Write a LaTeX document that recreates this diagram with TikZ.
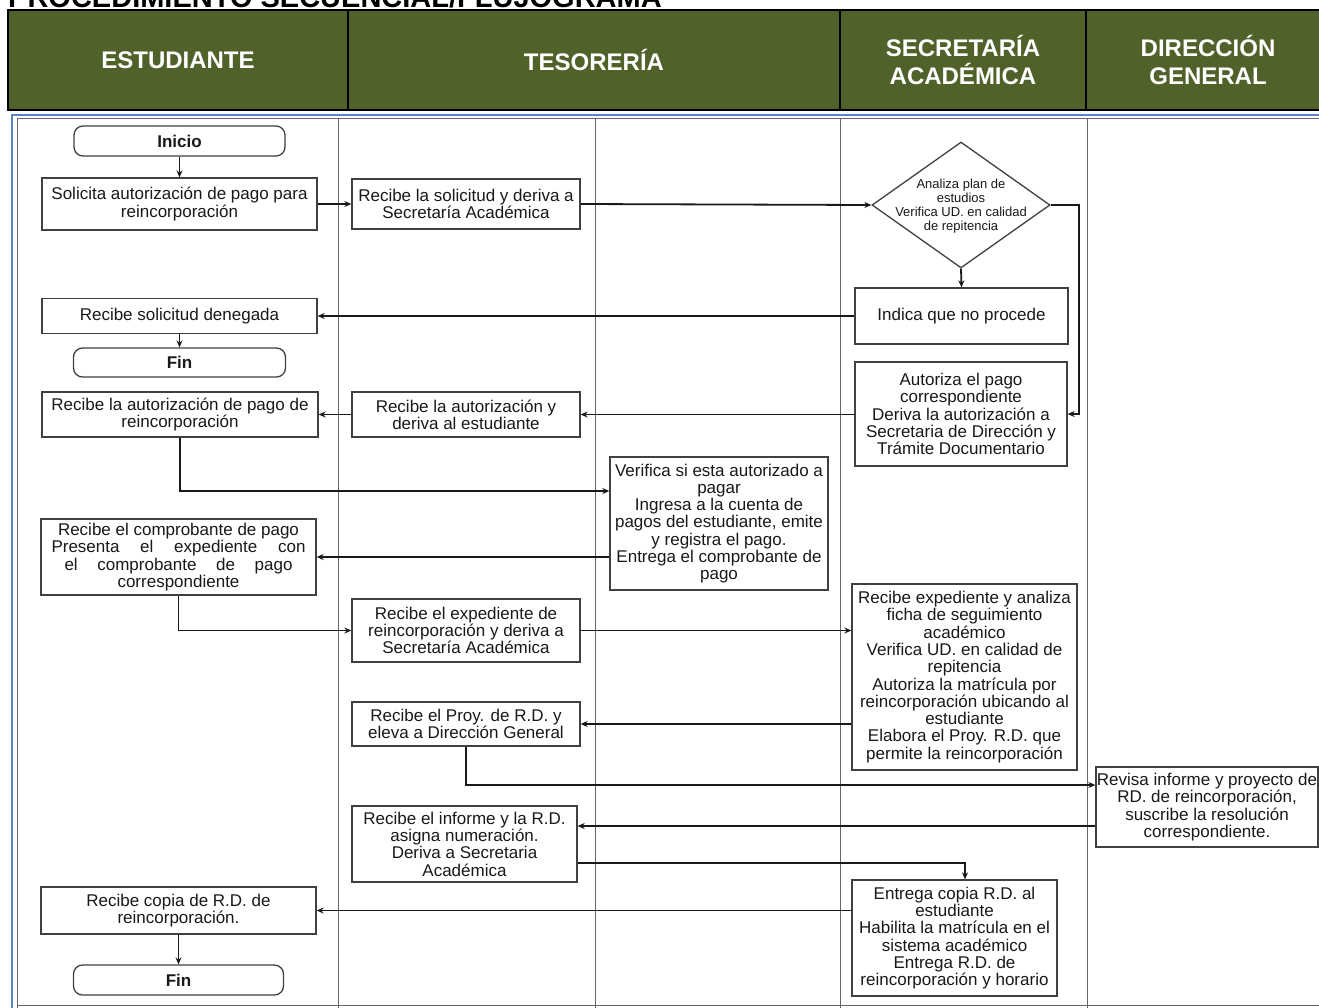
\documentclass[tikz,border=0pt]{standalone}
\usepackage{fontspec}
\setmainfont{Liberation Sans}
\usetikzlibrary{arrows.meta,shapes.geometric,calc}
\definecolor{hdr}{RGB}{80,97,42}
\definecolor{frameblue}{RGB}{91,135,201}
\begin{document}
\begin{tikzpicture}[x=1pt,y=-1pt,
  box/.style={draw=black!75, line width=1.3pt, fill=white, inner sep=0pt, align=center,
    font=\fontsize{17}{17.3}\selectfont, text=black!90},
  term/.style={box, rounded corners=9pt, font=\bfseries\fontsize{17}{17.3}\selectfont},
  arr/.style={line width=1.8pt, draw=black!90, -{Stealth[length=7pt,width=6pt]}},
  lane/.style={draw=black!60, line width=1pt},
  hd/.style={text=white, font=\bfseries\fontsize{24}{28}\selectfont, align=center}]
\useasboundingbox (0,0) rectangle (1319,1007);

% title (cut off at top, as in the reference)
\node[anchor=base west, inner sep=0pt, font=\bfseries\fontsize{29}{32}\selectfont] (title) at (8,7) {PROCEDIMIENTO SECUENCIAL/FLUJOGRAMA};

% header
\fill[hdr] (8,10) rectangle (1325,110);
\draw[line width=2.5pt] (1325,10) -- (8,10) -- (8,110) -- (1325,110);
\draw[line width=1.8pt] (348,10)--(348,110) (840,10)--(840,110) (1086,10)--(1086,110);
\node[hd] (hE) at (178,60) {ESTUDIANTE};
\node[hd] (hT) at (594,60) {TESORERÍA};
\node[hd] (hS) at (963,60) {SECRETARÍA\\ACADÉMICA};
\node[hd] (hD) at (1208,60) {DIRECCIÓN\\GENERAL};

% lanes
\draw[frameblue, line width=1.5pt] (12,1010) -- (12,115) -- (1325,115);
\draw[lane] (17,1010) -- (17,118) -- (1325,118);
\draw[lane] (338,118) -- (338,1010) (595,118) -- (595,1010) (840,118) -- (840,1010) (1087,118) -- (1087,1010);
\draw[lane] (17,1005) -- (1325,1005);

% nodes
\node[term, minimum width=211pt, minimum height=30pt] (inicio) at (179.5,141) {Inicio};
\node[box, minimum width=275pt, minimum height=52pt] (sol) at (179.5,204) {Solicita autorización de pago para\\reincorporación};
\node[box, minimum width=228pt, minimum height=50pt] (rsol) at (466,204) {Recibe la solicitud y deriva a\\Secretaría Académica};
\node[draw=black!75, line width=1.3pt, fill=white, shape=diamond, inner sep=0pt, minimum width=178pt, minimum height=126pt] (dia) at (961,205) {};
\node[align=center, inner sep=0pt, text=black!90, font=\fontsize{13}{14}\selectfont] (diatext) at (961,206) {Analiza plan de\\estudios\\Verifica UD. en calidad\\de repitencia};
\node[box, minimum width=213pt, minimum height=56pt] (indica) at (961.5,316) {Indica que no procede};
\node[box, minimum width=275pt, minimum height=35pt] (den) at (179.5,316) {Recibe solicitud denegada};
\node[term, minimum width=212pt, minimum height=29pt] (fin1) at (179.5,362.5) {Fin};
\node[box, minimum width=276pt, minimum height=45pt] (rautE) at (180,414.5) {Recibe la autorización de pago de\\reincorporación};
\node[box, minimum width=228pt, minimum height=45pt] (rautT) at (466,414.5) {Recibe la autorización y\\deriva al estudiante};
\node[box, minimum width=212pt, minimum height=104pt] (aut) at (961,414) {Autoriza el pago\\correspondiente\\Deriva la autorización a\\Secretaria de Dirección y\\Trámite Documentario};
\node[box, minimum width=218pt, minimum height=133pt] (ver) at (719,523.5) {Verifica si esta autorizado a\\pagar\\Ingresa a la cuenta de\\pagos del estudiante, emite\\y registra el pago.\\Entrega el comprobante de\\pago};
\node[box, minimum width=275pt, minimum height=76pt] (comp) at (178.5,557) {Recibe el comprobante de pago\\\makebox[254pt][s]{Presenta el expediente con}\\\makebox[228pt][s]{el comprobante de pago}\\correspondiente};
\node[box, minimum width=228pt, minimum height=63pt] (rexp) at (466,630.5) {Recibe el expediente de\\reincorporación y deriva a\\Secretaría Académica};
\node[box, minimum width=225pt, minimum height=186pt] (anal) at (964.5,677) {Recibe expediente y analiza\\ficha de seguimiento\\académico\\Verifica UD. en calidad de\\repitencia\\Autoriza la matrícula por\\reincorporación ubicando al\\estudiante\\Elabora el Proy. R.D. que\\permite la reincorporación};
\node[box, minimum width=228pt, minimum height=44pt] (proy) at (466,724) {Recibe el Proy. de R.D. y\\eleva a Dirección General};
\node[box, minimum width=222pt, minimum height=80pt] (rev) at (1207,807) {Revisa informe y proyecto de\\RD. de reincorporación,\\suscribe la resolución\\correspondiente.};
\node[box, minimum width=225pt, minimum height=76pt] (rinf) at (464.5,844) {Recibe el informe y la R.D.\\asigna numeración.\\Deriva a Secretaria\\Académica};
\node[box, minimum width=205pt, minimum height=116pt] (ent) at (954.5,938) {Entrega copia R.D. al\\estudiante\\Habilita la matrícula en el\\sistema académico\\Entrega R.D. de\\reincorporación y horario};
\node[box, minimum width=275pt, minimum height=47pt] (rcop) at (178.5,910.5) {Recibe copia de R.D. de\\reincorporación.};
\node[term, minimum width=210pt, minimum height=30pt] (fin2) at (178.5,980) {Fin};

% connectors
\draw[arr] (inicio.south) -- (inicio.south |- sol.north);
\draw[arr] (sol.east) -- (rsol.west);
\draw[arr] (rsol.east) -- (dia.west);
\draw[arr] (dia.south) -- (indica.north);
\draw[arr] (dia.east) -- ++(28,0) |- (aut.east);
\draw[arr] (indica.west) -- (den.east);
\draw[arr] (den.south) -- (fin1.north);
\draw[arr] (aut.west |- rautT.east) -- (rautT.east);
\draw[arr] (rautT.west) -- (rautE.east);
\draw[arr] (rautE.south) |- ([yshift=32.5pt]ver.west);
\draw[arr] (ver.west |- comp.east) -- (comp.east);
\draw[arr] (comp.south) |- (rexp.west);
\draw[arr] (rexp.east) -- (rexp.east -| anal.west);
\draw[arr] (proy.east -| anal.west) -- (proy.east);
\draw[arr] (proy.south) |- ([yshift=22pt]rev.west);
\draw[arr] ([yshift=-19pt]rev.west) -- ([yshift=-19pt]rev.west -| rinf.east);
\draw[arr] ([yshift=-19pt]rinf.east) -| ([xshift=10.5pt]ent.north);
\draw[arr] (rcop.east -| ent.west) -- (rcop.east);
\draw[arr] (rcop.south) -- (fin2.north);
\end{tikzpicture}
\end{document}
